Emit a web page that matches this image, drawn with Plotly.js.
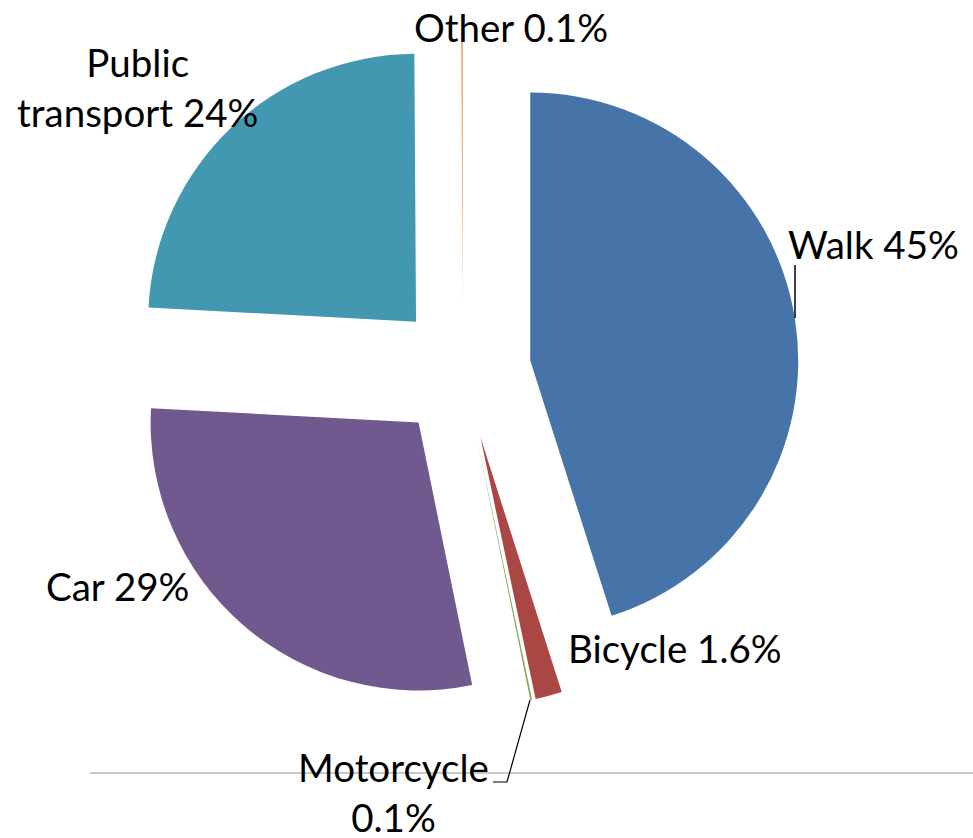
<!DOCTYPE html>
<html>
<head>
<meta charset="utf-8">
<script src="https://cdn.plot.ly/plotly-3.0.1.min.js"></script>
<style>html,body{margin:0;padding:0;background:#fff;}#chart{width:973px;height:838px;}</style>
</head>
<body>
<div id="chart"></div>
<script>
// ---- data ----
var modes = ["Walk", "Bicycle", "Motorcycle", "Car", "Public transport", "Other"];
var shares = [45, 1.6, 0.1, 29, 24, 0.1];
var shareLabels = ["45%", "1.6%", "0.1%", "29%", "24%", "0.1%"];
var sliceColors = ["#4674A8", "#AA4643", "#89A54E", "#71588F", "#4298B0", "#F0A56A"];

var W = 973, H = 838;
function px(x) { return x / W; }
function py(y) { return 1 - y / H; }

var FONT = {family: "Lato, 'Open Sans', sans-serif", size: 38.5, color: "#000"};

var trace = {
  type: "pie",
  labels: modes,
  values: shares,
  sort: false,
  direction: "clockwise",
  rotation: 0,
  pull: 0.254,
  textinfo: "none",
  hoverinfo: "label+percent",
  marker: {colors: sliceColors, line: {width: 0}},
  showlegend: false,
  domain: {x: [px(127), px(799)], y: [py(707), py(35)]}
};

// label placement (text positions only)
var labelPos = [
  {x: 786, y: 244, xa: "left", al: "left", t: modes[0] + " " + shareLabels[0]},
  {x: 566, y: 648, xa: "left", al: "left", t: modes[1] + " " + shareLabels[1]},
  {x: 393, y: 792, xa: "center", al: "center", t: modes[2] + "<br>" + shareLabels[2]},
  {x: 44, y: 586, xa: "left", al: "left", t: modes[3] + " " + shareLabels[3]},
  {x: 137, y: 87, xa: "center", al: "center", t: "Public<br>transport " + shareLabels[4]},
  {x: 511, y: 27, xa: "center", al: "center", t: modes[5] + " " + shareLabels[5]}
];
var annotations = labelPos.map(function (p) {
  return {
    xref: "paper", yref: "paper", x: px(p.x), y: py(p.y),
    xanchor: p.xa, yanchor: "middle", align: p.al,
    text: p.t, showarrow: false, font: FONT
  };
});

var shapes = [
  // baseline rule
  {type: "line", xref: "paper", yref: "paper", x0: px(90), x1: px(973), y0: py(773), y1: py(773),
   line: {color: "#c8c8c8", width: 2}, layer: "below"},
  // Walk leader
  {type: "line", xref: "paper", yref: "paper", x0: px(795), x1: px(795), y0: py(265), y1: py(318),
   line: {color: "#000", width: 1.5}},
  // Motorcycle leader
  {type: "path", xref: "paper", yref: "paper",
   path: "M " + px(530) + "," + py(700) + " L " + px(507) + "," + py(782) + " L " + px(493) + "," + py(782),
   line: {color: "#000", width: 1.2}}
];

var layout = {
  width: W, height: H,
  margin: {l: 0, r: 0, t: 0, b: 0},
  paper_bgcolor: "#fff",
  plot_bgcolor: "#fff",
  annotations: annotations,
  shapes: shapes
};

Plotly.newPlot("chart", [trace], layout, {displayModeBar: false, staticPlot: true});
</script>
</body>
</html>
